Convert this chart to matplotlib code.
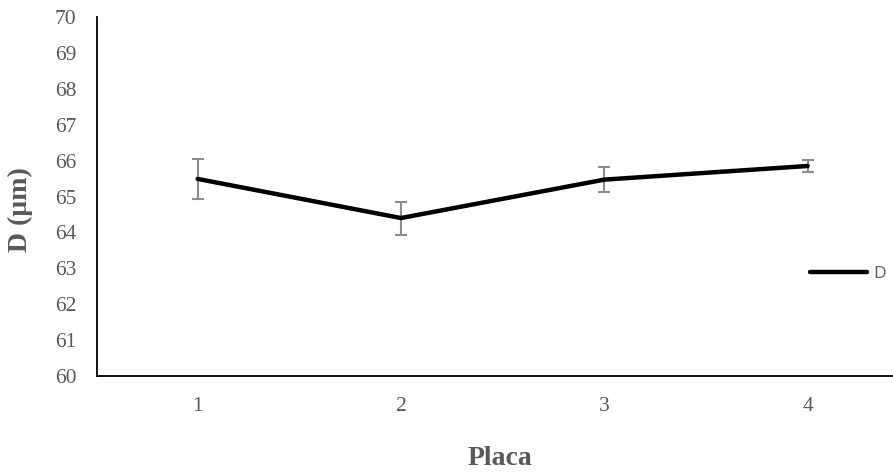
import matplotlib
matplotlib.use("Agg")
import matplotlib.pyplot as plt

placas = [1, 2, 3, 4]
d_mean = [65.49, 64.40, 65.47, 65.85]
d_err = [0.55, 0.46, 0.35, 0.18]
y_ticks = list(range(60, 71))

grey_text = "#595959"
serif = ["Liberation Serif", "DejaVu Serif"]

W, H = 893, 472
left_px, right_px, top_px, bottom_px = 97, 893, 17, 376

fig = plt.figure(figsize=(W / 100, H / 100), dpi=100)
ax = fig.add_axes([left_px / W, 1 - bottom_px / H,
                   (right_px - left_px) / W, (bottom_px - top_px) / H])

ax.errorbar(placas, d_mean, yerr=d_err, fmt="none", ecolor="#8c8c8c",
            elinewidth=1.5, capsize=4, capthick=1.5, zorder=2)
ax.plot(placas, d_mean, color="black", linewidth=3.2, solid_capstyle="round",
        label="D", zorder=3)

ax.set_ylim(60, 70)
ax.set_xlim(0.505, 4.42)
ax.set_yticks(y_ticks)
ax.set_xticks(placas)
ax.tick_params(axis="both", length=0, labelsize=15.5, labelcolor=grey_text)
ax.tick_params(axis="y", pad=15)
ax.tick_params(axis="x", pad=15)
for lbl in ax.get_xticklabels() + ax.get_yticklabels():
    lbl.set_family(serif)

for side in ("top", "right"):
    ax.spines[side].set_visible(False)
for side in ("left", "bottom"):
    ax.spines[side].set_linewidth(1.3)
    ax.spines[side].set_color("black")

ax_w = right_px - left_px
ax_h = bottom_px - top_px
ax.set_xlabel("Placa", fontsize=20, fontweight="bold", color=grey_text,
              family=serif)
ax.xaxis.set_label_coords((500 - left_px) / ax_w, -(446 - bottom_px) / ax_h)
ax.set_ylabel("D (µm)", fontsize=20, fontweight="bold", color=grey_text,
              family=serif)
ax.yaxis.set_label_coords(-(left_px - 33) / ax_w, (bottom_px - 210) / ax_h)

ax.legend(loc="center left", bbox_to_anchor=(810 / W, 1 - 274 / H),
          bbox_transform=fig.transFigure, frameon=False, borderpad=0,
          borderaxespad=0, handlelength=3.3, handletextpad=0.35,
          prop={"family": "Open Sans", "size": 12.5}, labelcolor=grey_text)

fig.savefig("out.png", dpi=100)
